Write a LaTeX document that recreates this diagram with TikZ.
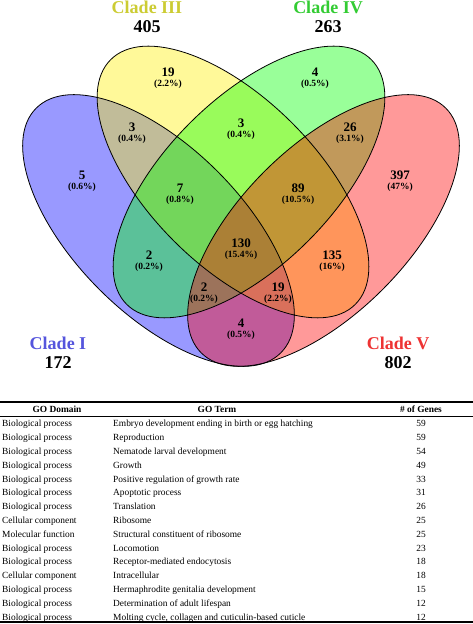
\documentclass[tikz,border=0pt]{standalone}
\usepackage{fontspec}
\setmainfont{Liberation Serif}
\definecolor{cOne}{RGB}{85,85,221}
\definecolor{cThree}{RGB}{204,204,51}
\definecolor{cFour}{RGB}{51,204,51}
\definecolor{cFive}{RGB}{238,51,51}
\begin{document}
\begin{tikzpicture}[x=1pt,y=1pt,
  num/.style={font=\fontsize{13}{14}\selectfont\bfseries, inner sep=0pt},
  pct/.style={font=\fontsize{9.5}{11}\selectfont\bfseries, inner sep=0pt},
  clade/.style={font=\fontsize{18}{20}\selectfont\bfseries, inner sep=0pt},
  cnt/.style={font=\fontsize{18}{20}\selectfont\bfseries, inner sep=0pt},
  cell/.style={font=\fontsize{9.4}{10}\selectfont, inner sep=0pt, anchor=base west},
  cellc/.style={font=\fontsize{9.4}{10}\selectfont, inner sep=0pt, anchor=base},
  head/.style={font=\fontsize{9.4}{10}\selectfont\bfseries, inner sep=0pt, anchor=base},
  vfill/.style={fill=#1, fill opacity=0.4},
  vline/.style={draw=black, line width=0.8pt}
]
\useasboundingbox (0,0) rectangle (473,624);
\fill[white] (0,0) rectangle (473,624);
% Venn diagram
\fill[vfill=blue,  shift={(158.5,393.5)},rotate=-45] (0,0) ellipse (173pt and 83.5pt);
\fill[vfill=yellow,shift={(233,442)},rotate=-45] (0,0) ellipse (173pt and 83.5pt);
\fill[vfill=green, shift={(249,442)},rotate=45] (0,0) ellipse (173pt and 83.5pt);
\fill[vfill=red,   shift={(323.5,393.5)},rotate=45] (0,0) ellipse (173pt and 83.5pt);
\draw[vline, shift={(158.5,393.5)},rotate=-45] (0,0) ellipse (173pt and 83.5pt);
\draw[vline, shift={(233,442)},rotate=-45] (0,0) ellipse (173pt and 83.5pt);
\draw[vline, shift={(249,442)},rotate=45] (0,0) ellipse (173pt and 83.5pt);
\draw[vline, shift={(323.5,393.5)},rotate=45] (0,0) ellipse (173pt and 83.5pt);
% set labels
\node[clade, text=cThree] (l3) at (147,617) {Clade III};
\node[cnt] (c3) at (147,597) {405};
\node[clade, text=cFour] (l4) at (328,617) {Clade IV};
\node[cnt] (c4) at (328,597) {263};
\node[clade, text=cOne] (l1) at (58,281) {Clade I};
\node[cnt] (c1) at (58,261) {172};
\node[clade, text=cFive] (l5) at (398,281) {Clade V};
\node[cnt] (c5) at (398,261) {802};
% region labels
\foreach \nm/\x/\yn/\n/\p in {
  a/168/552/19/2.2, b/315/552/4/0.5,
  c/132/497/3/0.4, d/241/501/3/0.4, e/350/497/26/3.1,
  f/82/449/5/0.6, g/180/436/7/0.8, h/298/436/89/10.5, i/400/449/397/47,
  j/241/381/130/15.4, k/149/369/2/0.2, l/332/369/135/16,
  m/204/337/2/0.2, n/278/337/19/2.2, o/241/301/4/0.5}{
  \node[num] (\nm n) at (\x,\yn) {\n};
  \node[pct] (\nm p) at (\x,\yn-12.5) {(\p\%)};
}
% table
\draw[line width=2pt] (0,222) -- (473,222);
\draw[line width=0.7pt] (0,208) -- (473,208);
\draw[line width=2pt] (0,2) -- (473,2);
\node[head] (h1) at (57,211) {GO Domain};
\node[head] (h2) at (217,211) {GO Term};
\node[head] (h3) at (421,211) {\# of Genes};
\foreach \d/\t/\g [count=\i] in {
  Biological process/{Embryo development ending in birth or egg hatching}/59,
  Biological process/Reproduction/59,
  Biological process/Nematode larval development/54,
  Biological process/Growth/49,
  Biological process/Positive regulation of growth rate/33,
  Biological process/Apoptotic process/31,
  Biological process/Translation/26,
  Cellular component/Ribosome/25,
  Molecular function/Structural constituent of ribosome/25,
  Biological process/Locomotion/23,
  Biological process/Receptor-mediated endocytosis/18,
  Cellular component/Intracellular/18,
  Biological process/Hermaphrodite genitalia development/15,
  Biological process/Determination of adult lifespan/12,
  Biological process/{Molting cycle, collagen and cuticulin-based cuticle}/12}{
  \pgfmathsetmacro\yy{197-13.8*(\i-1)}
  \node[cell] (d\i) at (2,\yy) {\d};
  \node[cell] (t\i) at (113,\yy) {\t};
  \node[cellc] (g\i) at (421,\yy) {\g};
}
\end{tikzpicture}
\end{document}
